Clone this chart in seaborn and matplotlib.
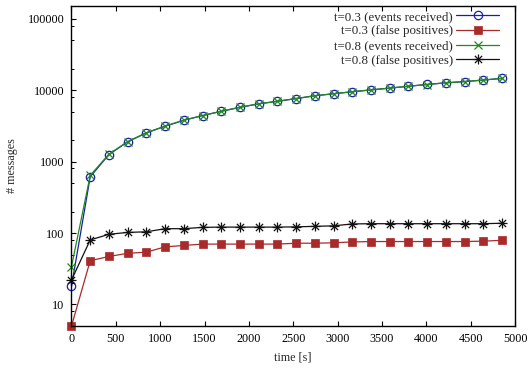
import numpy as np
import pandas as pd
import matplotlib
matplotlib.use("Agg")
import matplotlib.pyplot as plt
from matplotlib.path import Path
from matplotlib.ticker import LogLocator, FixedLocator, NullFormatter
import seaborn as sns

# ---- data ----
time_s = [0, 211, 422, 633, 844, 1055, 1266, 1477, 1688, 1899, 2110, 2321,
          2532, 2743, 2954, 3165, 3376, 3587, 3798, 4009, 4220, 4431, 4642, 4853]
ev_03 = [18, 612, 1253, 1888, 2518, 3118, 3784, 4394, 5043, 5742, 6410, 6970,
         7600, 8320, 8880, 9470, 10050, 10650, 11300, 12000, 12650, 13150, 13800, 14590]
fp_03 = [5, 41, 47, 52, 54, 64, 67, 70, 70, 70, 70, 70,
         72, 72, 73, 75, 76, 76, 76, 76, 76, 76, 77, 79]
ev_08 = [34, 640, 1270, 1900, 2530, 3130, 3790, 4400, 5050, 5750, 6420, 6980,
         7610, 8330, 8890, 9480, 10060, 10660, 11310, 11960, 12610, 13150, 13810, 14600]
fp_08 = [22, 80, 96, 102, 104, 115, 115, 120, 121, 121, 121, 121,
         122, 124, 126, 134, 135, 135, 135, 135, 135, 135, 135, 137]

labels = ["t=0.3 (events received)", "t=0.3 (false positives)",
          "t=0.8 (events received)", "t=0.8 (false positives)"]
x_ticks = [0, 500, 1000, 1500, 2000, 2500, 3000, 3500, 4000, 4500, 5000]
y_ticks = [10, 100, 1000, 10000, 100000]

sns.set_style("ticks")
plt.rcParams["font.family"] = ["Liberation Serif", "DejaVu Serif"]

fs = 8.7
fig = plt.figure(figsize=(5.30, 3.69), dpi=100)
ax = fig.add_axes([0.1349, 0.1165, 0.8368, 0.8672])

# 8-arm asterisk marker (gnuplot style "*")
d = 0.72
star_path = Path([(-1, 0), (1, 0), (0, -1), (0, 1), (-d, -d), (d, d), (-d, d), (d, -d)],
                 [Path.MOVETO, Path.LINETO] * 4)

series = [
    (ev_03, labels[0], "#1c1ca8", dict(marker="o", markersize=6.0, markerfacecolor="none",
                                         markeredgewidth=0.9)),
    (fp_03, labels[1], "#a82a2a", dict(marker="s", markersize=6.0, markeredgewidth=0.5)),
    (ev_08, labels[2], "#1f8a1f", dict(marker="x", markersize=5.8, markeredgewidth=0.9)),
    (fp_08, labels[3], "#111111", dict(marker=star_path, markersize=7.2, markeredgewidth=0.9)),
]
for vals, lab, col, mk in series:
    df = pd.DataFrame({"time": time_s, "messages": vals})
    sns.lineplot(data=df, x="time", y="messages", ax=ax, color=col, label=lab,
                 linewidth=0.9, clip_on=False, estimator=None,
                 markeredgecolor=col, **mk)

ax.set_yscale("log")
ax.set_xlim(0, 5000)
ax.set_ylim(5, 150000)
ax.xaxis.set_major_locator(FixedLocator(x_ticks))
ax.yaxis.set_major_locator(FixedLocator(y_ticks))
ax.set_yticklabels([str(v) for v in y_ticks])
ax.yaxis.set_minor_locator(LogLocator(base=10, subs=[2, 5, 8]))
ax.yaxis.set_minor_formatter(NullFormatter())
ax.set_xticklabels([str(v) for v in x_ticks])

ax.tick_params(axis="both", which="both", direction="in", labelsize=fs, colors="black")
ax.tick_params(axis="x", which="major", length=3.5, width=0.8, pad=5, top=True, bottom=True)
ax.tick_params(axis="y", which="major", length=3.5, width=0.8, pad=5, left=True, right=False)
ax.tick_params(axis="y", which="minor", length=1.8, width=0.7, left=True, right=False)
for s in ax.spines.values():
    s.set_visible(True)
    s.set_color("black")
    s.set_linewidth(1.0)

ax.set_xlabel("time [s]", fontsize=fs, labelpad=5)
ax.set_ylabel("# messages", fontsize=fs, labelpad=7)

leg = ax.legend(loc="upper right", bbox_to_anchor=(0.964, 0.985), frameon=False,
                markerfirst=False, fontsize=9.3, handlelength=3.3, handletextpad=0.25,
                labelspacing=0.2, borderpad=0, borderaxespad=0)

fig.savefig("out.png", dpi=100)
